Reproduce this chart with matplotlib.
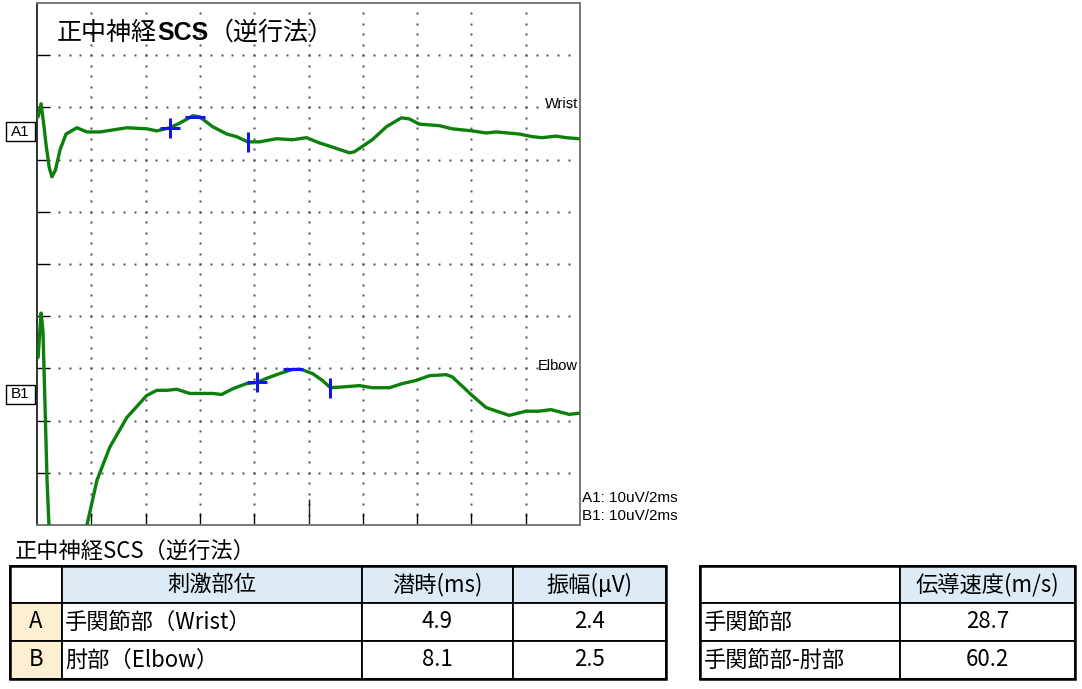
import numpy as np
import matplotlib.pyplot as plt
from matplotlib.patches import Rectangle

W, H = 1082, 689
CJK = ["Noto Sans CJK JP", "DejaVu Sans"]
LAT = ["Liberation Sans", "DejaVu Sans"]

# waveforms: time (ms) and amplitude (uV) relative to each baseline
wrist_t = [0.04, 0.15, 0.26, 0.33, 0.45, 0.55, 0.68, 0.85, 1.07, 1.47, 1.84,
           2.32, 3.31, 4.04, 4.41, 4.89, 5.26, 5.74, 5.99, 6.47, 6.99, 7.35,
           7.76, 8.2, 8.82, 9.41, 9.93, 10.4, 10.88, 11.51, 11.69, 12.35,
           12.87, 13.42, 13.71, 14.08, 14.82, 15.29, 16.03, 16.54, 16.91,
           17.76, 18.24, 18.6, 19.12, 19.49, 19.96]
wrist_uv = [2.7, 5.2, 0.8, -2.5, -7.0, -8.8, -7.5, -3.6, -0.6, 0.6, -0.2,
            -0.2, 0.6, 0.4, 0.0, 0.6, 1.5, 2.9, 2.7, 0.8, -0.6, -1.1,
            -2.1, -2.1, -1.5, -1.7, -1.3, -2.3, -3.1, -4.2, -4.0, -1.7,
            0.8, 2.5, 2.3, 1.3, 1.0, 0.4, 0.0, -0.4, -0.2,
            -0.6, -1.1, -1.3, -1.0, -1.3, -1.5]

elbow_t = [0.04, 0.15, 0.22, 0.29, 0.37, 0.44, 0.55, 0.9, 1.3, 1.6, 1.84,
           2.21, 2.68, 3.31, 4.04, 4.41, 4.78, 5.15, 5.63, 5.99, 6.47, 6.8,
           7.21, 7.72, 8.09, 8.46, 8.93, 9.41, 9.74, 10.15, 10.51, 10.81,
           11.4, 11.88, 12.35, 12.98, 13.46, 13.97, 14.45, 15.07, 15.29,
           16.03, 16.54, 17.39, 18.01, 18.49, 18.93, 19.6, 19.96]
elbow_uv = [7.1, 15.6, 12.2, -1.1, -16.4, -25.0, -33.0, -42.0, -40.0, -32.0,
            -25.0, -16.4, -10.1, -4.4, -0.2, 0.8, 0.8, 1.0, 0.2, 0.2, 0.2, 0.0,
            1.1, 2.1, 2.3, 3.1, 4.0, 4.8, 4.8, 4.0, 2.7, 1.3,
            1.5, 1.7, 1.3, 1.3, 2.1, 2.7, 3.6, 3.8, 3.4,
            -0.2, -2.5, -4.0, -3.2, -3.2, -2.9, -3.8, -3.6]

# cursors: onset (+), peak (-), end (|)
wrist_cur_t = [4.9, 5.81, 7.76]
wrist_cur_uv = [0.6, 2.7, -2.1]
elbow_cur_t = [8.1, 9.43, 10.81]
elbow_cur_uv = [2.3, 4.8, 1.3]
cur_markers = ["+", "_", "|"]

channel_labels = ["A1", "B1"]
trace_names = ["Wrist", "Elbow"]
baselines = [25.5, -25.0]
scale_labels = ["A1: 10uV/2ms", "B1: 10uV/2ms"]

# tables
table_title = "正中神経SCS（逆行法）"
col_headers = ["", "刺激部位", "潜時(ms)", "振幅(μV)"]
row_ids = ["A", "B"]
sites = ["手関節部（Wrist）", "肘部（Elbow）"]
latency_ms = [4.9, 8.1]
amplitude_uv = [2.4, 2.5]
ncv_headers = ["", "伝導速度(m/s)"]
ncv_segments = ["手関節部", "手関節部-肘部"]
ncv_values = [28.7, 60.2]

GREEN = "#0d7f0d"
BLUE = "#1414e6"
HEAD_FILL = "#ddebf7"
ID_FILL = "#fdf0d2"

fig = plt.figure(figsize=(W / 100, H / 100), dpi=100)

# --- waveform panel ---
ax = fig.add_axes([37 / W, 1 - 525 / H, 543 / W, 522 / H])
ax.set_xlim(0, 20)
ax.set_ylim(-50, 50)

dot = dict(ls="none", marker="s", ms=1.4, mew=0, color="#4a4a4a", zorder=1)
for gx in range(2, 20, 2):
    ys = np.arange(-48, 49, 2)
    ax.plot(np.full(len(ys), gx), ys, **dot)
for gy in range(-40, 41, 10):
    xs = np.arange(0.8, 19.9, 0.4)
    ax.plot(xs, np.full(len(xs), gy), **dot)

traces = [(wrist_t, wrist_uv, wrist_cur_t, wrist_cur_uv),
          (elbow_t, elbow_uv, elbow_cur_t, elbow_cur_uv)]
for (t, uv, ct, cuv), base in zip(traces, baselines):
    ax.plot(t, np.array(uv) + base, color=GREEN, lw=2.4,
            solid_joinstyle="round", solid_capstyle="round", zorder=3)
    for x, y, m in zip(ct, cuv, cur_markers):
        ax.plot(x, y + base, ls="none", marker=m, ms=14, mew=2.2,
                color=BLUE, zorder=4)

ax.set_xticks([2, 4, 6, 8, 12, 14, 16, 18])
ax.set_xticks([10], minor=True)
ax.set_yticks(range(-40, 41, 10))
ax.tick_params(axis="both", which="major", direction="in", length=8.5,
               width=1.0, color="black", labelbottom=False, labelleft=False)
ax.tick_params(axis="y", length=9)
ax.tick_params(axis="x", which="minor", direction="in", length=19,
               width=1.0, color="#222222", labelbottom=False)
for side in ["top", "right", "bottom"]:
    ax.spines[side].set_color("#777777")
    ax.spines[side].set_linewidth(1.4)
ax.spines["left"].set_color("#222222")
ax.spines["left"].set_linewidth(1.3)

# --- overlay in pixel coordinates ---
ov = fig.add_axes([0, 0, 1, 1])
ov.set_xlim(0, W)
ov.set_ylim(H, 0)
ov.axis("off")

# channel label boxes
for lab, py in zip(channel_labels, [131, 394]):
    ov.add_patch(Rectangle((6, py - 9.5), 29, 19, facecolor="white",
                           edgecolor="black", lw=1.0))
    ov.text(20.5, py + 0.5, lab, family=LAT, fontsize=11, ha="center",
            va="center")

for name, py in zip(trace_names, [104, 366]):
    ov.text(578, py, name, family=LAT, fontsize=10.5, ha="right",
            va="center")
for lab, py in zip(scale_labels, [498, 516]):
    ov.text(582, py, lab, family=LAT, fontsize=11, ha="left", va="center")

# title built from pieces (SCS is bold)
renderer = fig.canvas.get_renderer()
x = 57
for piece, fam, wt in [("正中神経", CJK, "normal"), ("SCS", LAT, "bold"),
                       ("（逆行法）", CJK, "normal")]:
    t = fig.text(x / W, 1 - 40 / H, piece, family=fam, fontweight=wt,
                 fontsize=18, ha="left", va="baseline")
    x += t.get_window_extent(renderer=renderer).width

fig.text(15 / W, 1 - 558 / H, table_title, family=CJK, fontsize=16,
         ha="left", va="baseline")


def cell(x0, x1, y0, y1, fill="white"):
    ov.add_patch(Rectangle((x0, y0), x1 - x0, y1 - y0, facecolor=fill,
                           edgecolor="black", lw=1.3))


rows_y = [566, 603, 641, 679]
cols1 = [10, 62, 362, 513, 666]
cols2 = [700, 900, 1075]
FS = 16

# table 1
for j, head in enumerate(col_headers):
    cell(cols1[j], cols1[j + 1], rows_y[0], rows_y[1],
         HEAD_FILL if j > 0 else "white")
    if head:
        ov.text((cols1[j] + cols1[j + 1]) / 2, (rows_y[0] + rows_y[1]) / 2,
                head, family=CJK, fontsize=FS, ha="center", va="center")
for i in range(len(row_ids)):
    y0, y1 = rows_y[i + 1], rows_y[i + 2]
    yc = (y0 + y1) / 2
    cell(cols1[0], cols1[1], y0, y1, ID_FILL)
    for j in range(1, 4):
        cell(cols1[j], cols1[j + 1], y0, y1)
    ov.text((cols1[0] + cols1[1]) / 2, yc, row_ids[i], family=CJK,
            fontsize=FS, ha="center", va="center")
    ov.text(cols1[1] + 3, yc, sites[i], family=CJK, fontsize=FS,
            ha="left", va="center")
    ov.text((cols1[2] + cols1[3]) / 2, yc, f"{latency_ms[i]:.1f}",
            family=CJK, fontsize=FS, ha="center", va="center")
    ov.text((cols1[3] + cols1[4]) / 2, yc, f"{amplitude_uv[i]:.1f}",
            family=CJK, fontsize=FS, ha="center", va="center")
ov.add_patch(Rectangle((cols1[0], rows_y[0]), cols1[-1] - cols1[0],
                       rows_y[-1] - rows_y[0], fill=False,
                       edgecolor="black", lw=1.8))

# table 2
for j, head in enumerate(ncv_headers):
    cell(cols2[j], cols2[j + 1], rows_y[0], rows_y[1],
         HEAD_FILL if j > 0 else "white")
    if head:
        ov.text((cols2[j] + cols2[j + 1]) / 2, (rows_y[0] + rows_y[1]) / 2,
                head, family=CJK, fontsize=FS, ha="center", va="center")
for i in range(len(ncv_segments)):
    y0, y1 = rows_y[i + 1], rows_y[i + 2]
    yc = (y0 + y1) / 2
    cell(cols2[0], cols2[1], y0, y1)
    cell(cols2[1], cols2[2], y0, y1)
    ov.text(cols2[0] + 4, yc, ncv_segments[i], family=CJK, fontsize=FS,
            ha="left", va="center")
    ov.text((cols2[1] + cols2[2]) / 2, yc, f"{ncv_values[i]:.1f}",
            family=CJK, fontsize=FS, ha="center", va="center")
ov.add_patch(Rectangle((cols2[0], rows_y[0]), cols2[-1] - cols2[0],
                       rows_y[-1] - rows_y[0], fill=False,
                       edgecolor="black", lw=1.8))

fig.savefig("out.png", dpi=100)
